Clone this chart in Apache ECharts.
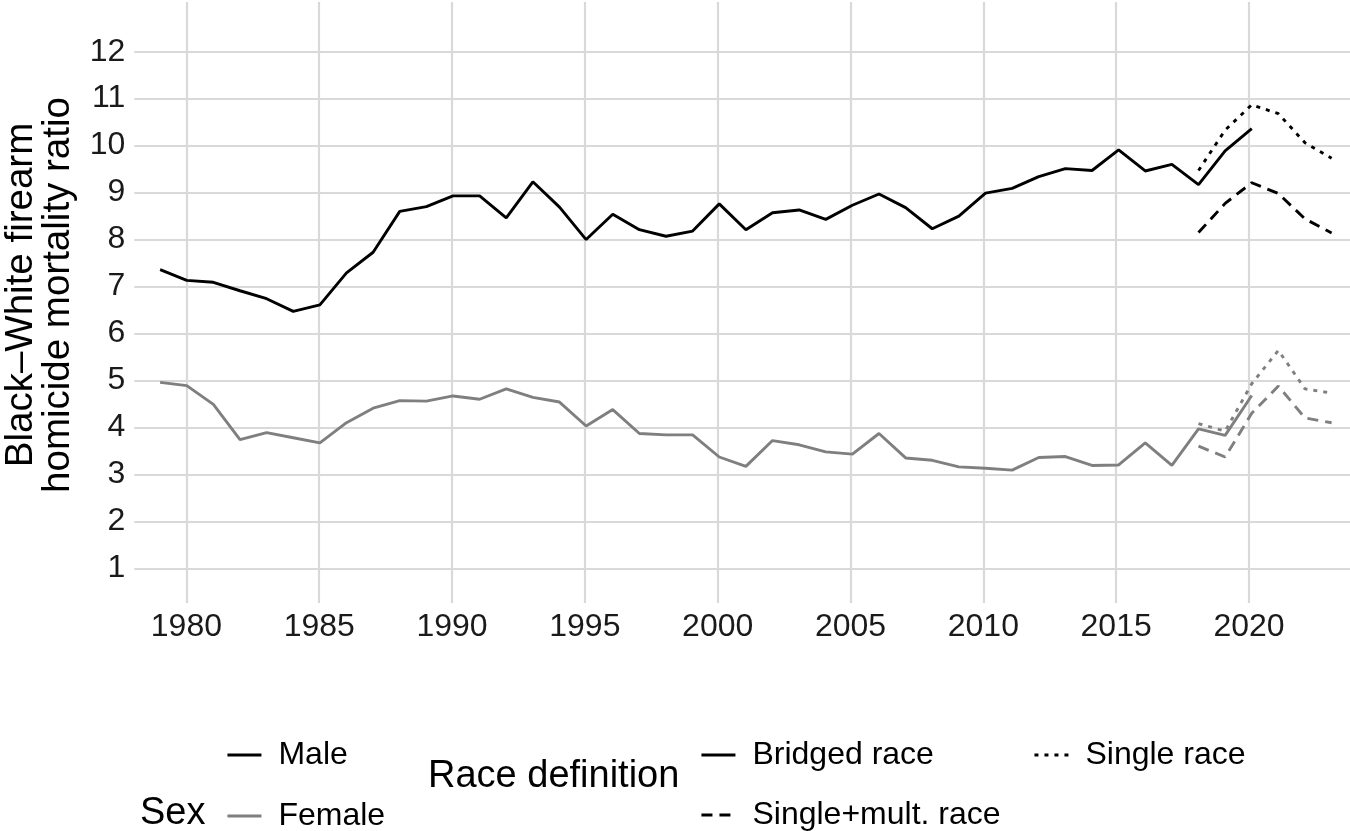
<!DOCTYPE html>
<html>
<head>
<meta charset="utf-8">
<script src="https://cdn.jsdelivr.net/npm/echarts@6/dist/echarts.min.js"></script>
<style>html,body{margin:0;padding:0;background:#fff;}#c{width:1350px;height:831px;}</style>
</head>
<body>
<div id="c"></div>
<script>
const yearsBridged = [1979,1980,1981,1982,1983,1984,1985,1986,1987,1988,1989,1990,1991,1992,1993,1994,1995,1996,1997,1998,1999,2000,2001,2002,2003,2004,2005,2006,2007,2008,2009,2010,2011,2012,2013,2014,2015,2016,2017,2018,2019,2020];
const maleBridged = [7.36,7.13,7.09,6.91,6.74,6.47,6.61,7.29,7.73,8.60,8.70,8.93,8.93,8.46,9.23,8.69,8.00,8.54,8.21,8.07,8.18,8.76,8.21,8.57,8.63,8.43,8.73,8.97,8.68,8.23,8.50,8.99,9.09,9.34,9.51,9.47,9.91,9.46,9.60,9.17,9.89,10.36];
const femaleBridged = [4.96,4.89,4.49,3.74,3.89,3.78,3.67,4.10,4.41,4.57,4.56,4.67,4.60,4.82,4.64,4.54,4.03,4.38,3.87,3.84,3.84,3.37,3.17,3.72,3.63,3.48,3.43,3.87,3.35,3.30,3.16,3.13,3.09,3.36,3.38,3.19,3.20,3.67,3.19,3.97,3.83,4.68];
const yearsSingle = [2018,2019,2020,2021,2022,2023];
const maleSingle = [9.47,10.33,10.87,10.68,10.06,9.73];
const maleSingleMult = [8.15,8.77,9.21,8.98,8.44,8.14];
const femaleSingle = [4.08,3.92,4.93,5.64,4.82,4.73];
const femaleSingleMult = [3.60,3.37,4.30,4.88,4.20,4.10];
const yTicks = [1,2,3,4,5,6,7,8,9,10,11,12];
const xTicks = [1980,1985,1990,1995,2000,2005,2010,2015,2020];

const BLACK = '#000000', GREY = '#7f7f7f', GRID = '#d9d9d9';
const FONT = 'Liberation Sans, Arial, Helvetica, sans-serif';
const LW = 2.9;
const DOT = [4, 6], DASH = [11, 7];
const SMALL = 32;

function pairs(xs, ys) { return xs.map((x, i) => [x, ys[i]]); }

function lineSeries(name, xs, ys, color, type) {
  return {
    name: name, type: 'line', xAxisIndex: 0, yAxisIndex: 0,
    data: pairs(xs, ys), symbol: 'none', showSymbol: false, legendIcon: 'none',
    lineStyle: { color: color, width: LW, type: type, cap: 'butt' },
    itemStyle: { color: color }, animation: false, z: 3
  };
}
function keySeries(name, color, type) {
  return {
    name: name, type: 'line', xAxisIndex: 0, yAxisIndex: 0, data: [],
    symbol: 'none', showSymbol: false, legendIcon: 'none',
    lineStyle: { color: color, width: LW, type: type, cap: 'butt' },
    itemStyle: { color: color }, animation: false
  };
}
function legendAt(name, left, centerY) {
  return {
    data: [{ name: name }], left: left, top: centerY - 15, orient: 'horizontal',
    itemWidth: 34, itemHeight: 30, selectedMode: false,
    itemStyle: { opacity: 0 },
    lineStyle: { width: LW },
    textStyle: { fontFamily: FONT, fontSize: SMALL, color: '#000', lineHeight: 30, padding: [0, 0, 0, 12] }
  };
}

const chart = echarts.init(document.getElementById('c'), null, { renderer: 'canvas' });
chart.setOption({
  backgroundColor: '#ffffff',
  animation: false,
  grid: [
    { left: 134.3, right: 0, top: 51.7, bottom: 831 - 568.3, containLabel: false },
    { left: 186.7 - 5 * 26.625, right: 0, top: 2, bottom: 831 - 603, containLabel: false }
  ],
  xAxis: [
    { type: 'value', gridIndex: 0, min: 1978.03, max: 2023.69, show: false },
    { type: 'value', gridIndex: 1, min: 1975, max: 2023.69, interval: 5,
      axisLine: { show: false }, axisTick: { show: false },
      axisLabel: { show: true, margin: 8, fontFamily: FONT, fontSize: SMALL, color: '#1a1a1a',
        formatter: v => (xTicks.indexOf(Math.round(v)) >= 0 && Math.abs(v - Math.round(v)) < 1e-6) ? String(Math.round(v)) : '' },
      splitLine: { show: true, showMinLine: false, showMaxLine: false, lineStyle: { color: GRID, width: 2.2 } } }
  ],
  yAxis: [
    { type: 'value', gridIndex: 0, min: 1, max: 12, interval: 1,
      axisLine: { show: false }, axisTick: { show: false },
      axisLabel: { show: true, margin: 9, fontFamily: FONT, fontSize: SMALL, color: '#1a1a1a',
        formatter: v => yTicks.indexOf(v) >= 0 ? String(v) : '' },
      splitLine: { show: true, lineStyle: { color: GRID, width: 2.2 } } },
    { type: 'value', gridIndex: 1, min: 0, max: 1, show: false }
  ],
  legend: [
    legendAt('Male', 221, 749),
    legendAt('Female', 221, 810),
    legendAt('Bridged race', 695, 749),
    legendAt('Single+mult. race', 695, 809),
    legendAt('Single race', 1028, 749)
  ],
  graphic: [
    { type: 'text', x: 40, y: 295, rotation: Math.PI / 2,
      style: { text: 'Black\u2013White firearm\nhomicide mortality ratio', fontFamily: FONT, fontSize: 38.5,
        lineHeight: 37, fill: '#000', align: 'center', verticalAlign: 'middle' } },
    { type: 'text', left: 140, top: 815 - 20,
      style: { text: 'Sex', fontFamily: FONT, fontSize: 38, fill: '#000' } },
    { type: 'text', left: 428, top: 778 - 20,
      style: { text: 'Race definition', fontFamily: FONT, fontSize: 38, fill: '#000' } }
  ],
  series: [
    lineSeries('Female bridged', yearsBridged, femaleBridged, GREY, 'solid'),
    lineSeries('Female single', yearsSingle, femaleSingle, GREY, DOT),
    lineSeries('Female single+mult', yearsSingle, femaleSingleMult, GREY, DASH),
    lineSeries('Male bridged', yearsBridged, maleBridged, BLACK, 'solid'),
    lineSeries('Male single', yearsSingle, maleSingle, BLACK, DOT),
    lineSeries('Male single+mult', yearsSingle, maleSingleMult, BLACK, DASH),
    keySeries('Male', BLACK, 'solid'),
    keySeries('Female', GREY, 'solid'),
    keySeries('Bridged race', BLACK, 'solid'),
    keySeries('Single+mult. race', BLACK, DASH),
    keySeries('Single race', BLACK, DOT)
  ]
});
</script>
</body>
</html>
